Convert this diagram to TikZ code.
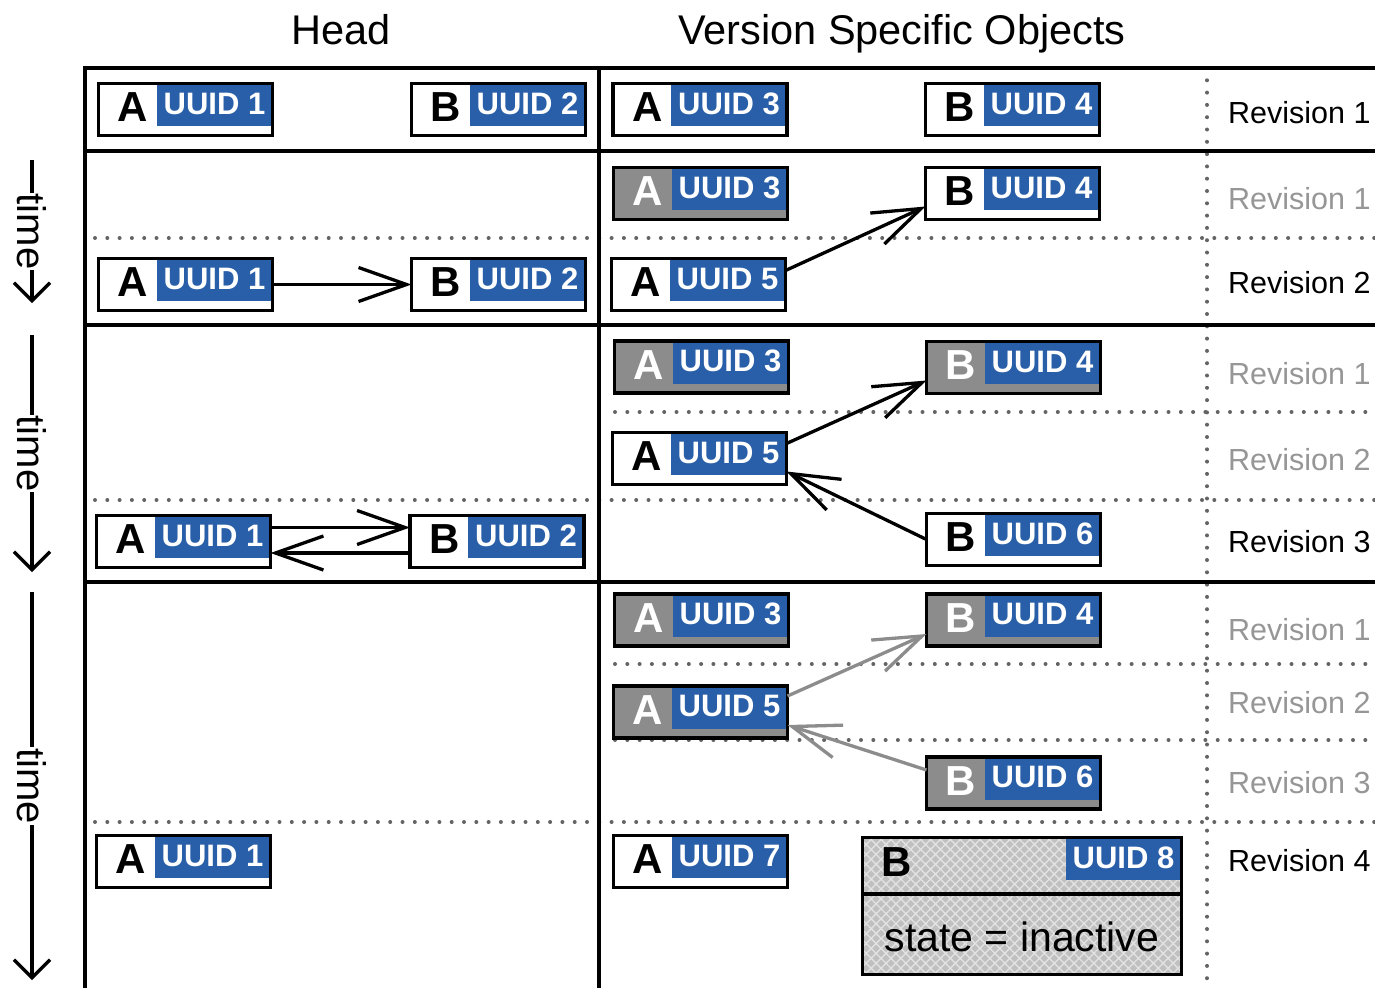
\documentclass[tikz,border=0pt]{standalone}
\usepackage{fontspec}
\setmainfont{Liberation Sans}
\usetikzlibrary{arrows.meta,patterns.meta,calc}

\definecolor{uuidblue}{RGB}{41,95,168}
\definecolor{oldgrey}{RGB}{140,140,140}
\definecolor{dotgrey}{RGB}{100,100,100}
\definecolor{labelgrey}{RGB}{150,150,150}
\definecolor{hatchbg}{RGB}{192,192,192}
\definecolor{hatchline}{RGB}{226,226,226}

\tikzset{
  x=1pt, y=-1pt,
  objbody/.style={rectangle, minimum width=174pt, minimum height=52pt, inner sep=0pt, outer sep=0pt},
  current body/.style={fill=white},
  stale body/.style={fill=oldgrey},
  current letter/.style={text=black},
  stale letter/.style={text=white},
  objborder/.style={line width=3.8pt},
  letterlabel/.style={font=\fontsize{42}{42}\selectfont\bfseries, inner sep=0pt},
  uuidlabel/.style={font=\fontsize{31}{31}\selectfont\bfseries, text=white, inner sep=0pt},
  frame/.style={line width=3.4pt},
  guide/.style={dotgrey, line width=4pt, line cap=round, dash pattern=on 0pt off 12.3pt},
  link/.style={line width=3.3pt, -{Straight Barb[length=48pt,width=34pt]}},
  stale link/.style={link, draw=oldgrey},
  timeline/.style={line width=3.3pt, -{Straight Barb[length=18pt,width=36pt]}},
  timelabel/.style={font=\fontsize{40}{40}\selectfont, fill=white, inner sep=1pt, rotate=-90},
  revlabel/.style={font=\fontsize{30.5}{30.5}\selectfont, anchor=west, inner sep=0pt},
  heading/.style={font=\fontsize{41.5}{41.5}\selectfont, anchor=base, inner sep=0pt},
}

% object box: name, x, y, letter, uuid number, state (current/stale)
\newcommand\objbox[6]{%
  \node[objbody,#6 body] (#1) at (#2,#3) {};
  \fill[uuidblue] ([xshift=58pt]#1.north west) rectangle ([yshift=-42.5pt]#1.north east);
  \node[letterlabel,#6 letter] at ([xshift=34.5pt,yshift=-24pt]#1.north west) {#4};
  \node[uuidlabel] at ([xshift=-58pt,yshift=-20pt]#1.north east) {UUID #5};
  \draw[objborder] (#1.north west) rectangle (#1.south east);
}

\begin{document}
\begin{tikzpicture}
\useasboundingbox (0,0) rectangle (1375,988);

% column headings
\node[heading] (headtitle) at (341,44) {Head};
\node[heading] (vsotitle) at (902,44) {Version Specific Objects};

% dotted guides
\draw[guide] (1207,68) -- (1207,988);
\draw[guide] (95,238) -- (1375,238);
\draw[guide] (615,412) -- (1375,412);
\draw[guide] (95,500) -- (1375,500);
\draw[guide] (615,664) -- (1375,664);
\draw[guide] (615,740) -- (1375,740);
\draw[guide] (95,822) -- (1375,822);

% table frame
\draw[frame] (85,988) -- (85,68) -- (1375,68);
\draw[frame] (599,68) -- (599,988);
\draw[frame] (85,151) -- (1375,151);
\draw[frame] (85,325) -- (1375,325);
\draw[frame] (85,582) -- (1375,582);

% time axes
\coordinate (t1s) at (32,160); \coordinate (t1e) at (32,303);
\coordinate (t2s) at (32,335); \coordinate (t2e) at (32,572);
\coordinate (t3s) at (32,592); \coordinate (t3e) at (32,980);
\draw[timeline] (t1s) -- node[timelabel] (time1) {time} (t1e);
\draw[timeline] (t2s) -- node[timelabel] (time2) {time} (t2e);
\draw[timeline] (t3s) -- node[timelabel] (time3) {time} (t3e);

% revision labels
\node[revlabel] (r1) at (1228,113) {Revision 1};
\node[revlabel, text=labelgrey] (r21) at (1228,199) {Revision 1};
\node[revlabel] (r22) at (1228,283) {Revision 2};
\node[revlabel, text=labelgrey] (r31) at (1228,374) {Revision 1};
\node[revlabel, text=labelgrey] (r32) at (1228,460) {Revision 2};
\node[revlabel] (r33) at (1228,542) {Revision 3};
\node[revlabel, text=labelgrey] (r41) at (1228,630) {Revision 1};
\node[revlabel, text=labelgrey] (r42) at (1228,703) {Revision 2};
\node[revlabel, text=labelgrey] (r43) at (1228,783) {Revision 3};
\node[revlabel] (r44) at (1228,861) {Revision 4};

% first step
\objbox{h1a}{185.5}{109.5}{A}{1}{current}
\objbox{h1b}{498.5}{109.5}{B}{2}{current}
\objbox{v1a3}{700}{109.5}{A}{3}{current}
\objbox{v1b4}{1012.5}{109.5}{B}{4}{current}

% second step
\objbox{v2a3}{700.5}{193.5}{A}{3}{stale}
\objbox{v2b4}{1012.5}{193.5}{B}{4}{current}
\objbox{h2a}{185.5}{284.5}{A}{1}{current}
\objbox{h2b}{498.5}{284.5}{B}{2}{current}
\objbox{v2a5}{698.5}{284.5}{A}{5}{current}

% third step
\objbox{v3a3}{701.5}{367}{A}{3}{stale}
\objbox{v3b4}{1013.5}{367.5}{B}{4}{stale}
\objbox{v3a5}{699.5}{458.5}{A}{5}{current}
\objbox{v3b6}{1013.5}{539.5}{B}{6}{current}
\objbox{h3a}{183.5}{541.5}{A}{1}{current}
\objbox{h3b}{497}{541.5}{B}{2}{current}

% fourth step
\objbox{v4a3}{701.5}{620}{A}{3}{stale}
\objbox{v4b4}{1013.5}{620}{B}{4}{stale}
\objbox{v4a5}{700.5}{712}{A}{5}{stale}
\objbox{v4b6}{1013.5}{783}{B}{6}{stale}
\objbox{h4a}{183.5}{861.5}{A}{1}{current}
\objbox{v4a7}{700.5}{861.5}{A}{7}{current}

% inactive object
\node[objbody, minimum width=319pt, minimum height=137pt, fill=hatchbg,
      postaction={pattern={Hatch[angle=45,distance=7pt,line width=1.4pt]}, pattern color=hatchline}]
      (v4b8) at (1022,906) {};
\fill[uuidblue] ([xshift=-116pt]v4b8.north east) rectangle ([yshift=-42.5pt]v4b8.north east);
\node[letterlabel] at ([xshift=34.5pt,yshift=-24.5pt]v4b8.north west) {B};
\node[uuidlabel] at ([xshift=-58pt,yshift=-20.5pt]v4b8.north east) {UUID 8};
\node[font=\fontsize{41}{41}\selectfont, inner sep=0pt] at ([yshift=-31pt]v4b8.center) {state = inactive};
\draw[objborder] ([yshift=-56.5pt]v4b8.north west) -- ([yshift=-56.5pt]v4b8.north east);
\draw[objborder] (v4b8.north west) rectangle (v4b8.south east);

% references
\draw[link] (h2a.east) -- (h2b.west);
\draw[link] ([yshift=14pt]v2a5.east) -- ([yshift=-13pt]v2b4.west);
\draw[link] ([yshift=15pt]v3a5.east) -- ([yshift=-13pt]v3b4.west);
\draw[link] (v3b6.west) -- ([yshift=-13pt]v3a5.east);
\draw[link] ([yshift=14pt]h3a.east) -- ([yshift=14pt]h3b.west);
\draw[link] ([yshift=-11.5pt]h3b.west) -- ([yshift=-11.5pt]h3a.east);
\draw[stale link] ([yshift=16pt]v4a5.east) -- ([yshift=-14pt]v4b4.west);
\draw[stale link] ([yshift=13pt]v4b6.west) -- ([yshift=-13pt]v4a5.east);
\end{tikzpicture}
\end{document}
